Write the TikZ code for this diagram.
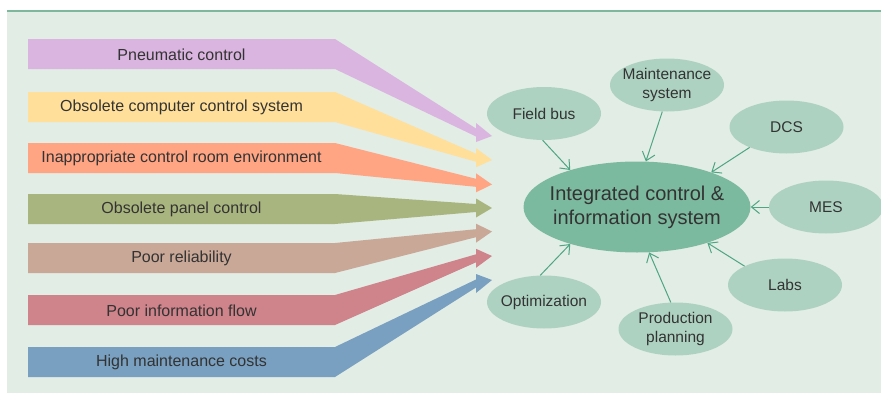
\documentclass[tikz,border=0pt]{standalone}
\usepackage{fontspec}
\setmainfont{Liberation Sans}
\usetikzlibrary{shapes.geometric,arrows.meta}
\definecolor{bgc}{HTML}{E2EDE5}
\definecolor{toplinec}{HTML}{7DB89D}
\definecolor{txt}{HTML}{333333}
\definecolor{c1}{HTML}{D9B5E0}
\definecolor{c2}{HTML}{FFDF99}
\definecolor{c3}{HTML}{FFA584}
\definecolor{c4}{HTML}{A9B57E}
\definecolor{c5}{HTML}{C9A898}
\definecolor{c6}{HTML}{CF838A}
\definecolor{c7}{HTML}{79A0C0}
\definecolor{mainfill}{HTML}{7CBA9F}
\definecolor{bubfill}{HTML}{AED2C1}
\definecolor{connc}{HTML}{4DA584}
\newcommand\myband[4]{%
  \fill[#4] (28,#1) -- (335,#1) -- (476,{#2-4}) -- (476,{#2-9.5}) -- (492,#3)
    -- (476,{#2+9.5}) -- (476,{#2+4}) -- (335,{#1+30}) -- (28,{#1+30}) -- cycle;}
\begin{document}
\begin{tikzpicture}[x=1pt,y=-1pt,
  bandtxt/.style={font=\fontsize{16}{19}\selectfont, text=txt, inner sep=0pt, anchor=center},
  bub/.style={ellipse, fill=bubfill, minimum width=114pt, minimum height=53pt, inner sep=0pt},
  bubtxt/.style={font=\fontsize{15.5}{18.3}\selectfont, text=txt, align=center, inner sep=0pt},
  conn/.style={draw=connc, line width=1pt, -{Straight Barb[length=8pt,width=13pt]}}]
\useasboundingbox (0,0) rectangle (881,394);
\fill[bgc] (7,11) rectangle (881,393);
\draw[toplinec, line width=2pt] (7,11) -- (881,11);

% input bands
\myband{39}{132.5}{136}{c1}
\myband{92}{157.7}{160}{c2}
\myband{143}{182.8}{184.5}{c3}
\myband{194}{208}{208}{c4}
\myband{243}{233.2}{231.5}{c5}
\myband{295}{258.3}{256}{c6}
\myband{347}{283.5}{280}{c7}
\node[bandtxt] (b1) at (181.5,54.5) {Pneumatic control};
\node[bandtxt] (b2) at (181.5,107.5) {Obsolete computer control system};
\node[bandtxt] (b3) at (181.5,158.5) {Inappropriate control room environment};
\node[bandtxt] (b4) at (181.5,209.5) {Obsolete panel control};
\node[bandtxt] (b5) at (181.5,258.5) {Poor reliability};
\node[bandtxt] (b6) at (181.5,310.5) {Poor information flow};
\node[bandtxt] (b7) at (181.5,362.5) {High maintenance costs};

% central system
\node[ellipse, fill=mainfill, minimum width=227pt, minimum height=91pt, inner sep=0pt] (main) at (637,207) {};
\node[font=\fontsize{20}{24}\selectfont, text=txt, align=center, inner sep=0pt] (mainT) at (main.center) {Integrated control \&\\information system};

% satellites
\node[bub] (fb) at (544,113.5) {};
\node[bubtxt] (fbT) at (fb.center) {Field bus};
\node[bub] (ms) at (667,85) {};
\node[bubtxt] (msT) at (ms.center) {Maintenance\\system};
\node[bub] (dcs) at (786.5,127) {};
\node[bubtxt] (dcsT) at (dcs.center) {DCS};
\node[bub] (mes) at (826,207) {};
\node[bubtxt] (mesT) at (mes.center) {MES};
\node[bub] (labs) at (785,285) {};
\node[bubtxt] (labsT) at (labs.center) {Labs};
\node[bub] (pp) at (675.5,329) {};
\node[bubtxt] (ppT) at (pp.center) {Production\\planning};
\node[bub] (opt) at (544,302) {};
\node[bubtxt] (optT) at (opt.center) {Optimization};

% connectors
\draw[conn] (fb.-93) -- (main.151.6);
\draw[conn] (ms.-100.6) -- (main.79.1);
\draw[conn] (dcs.209.5) -- (main.25.2);
\draw[conn] (mes.180) -- (main.0);
\draw[conn] (labs.155.4) -- (main.-27.2);
\draw[conn] (pp.100.3) -- (main.-75.4);
\draw[conn] (opt.98.7) -- (main.209.1);
\end{tikzpicture}
\end{document}
